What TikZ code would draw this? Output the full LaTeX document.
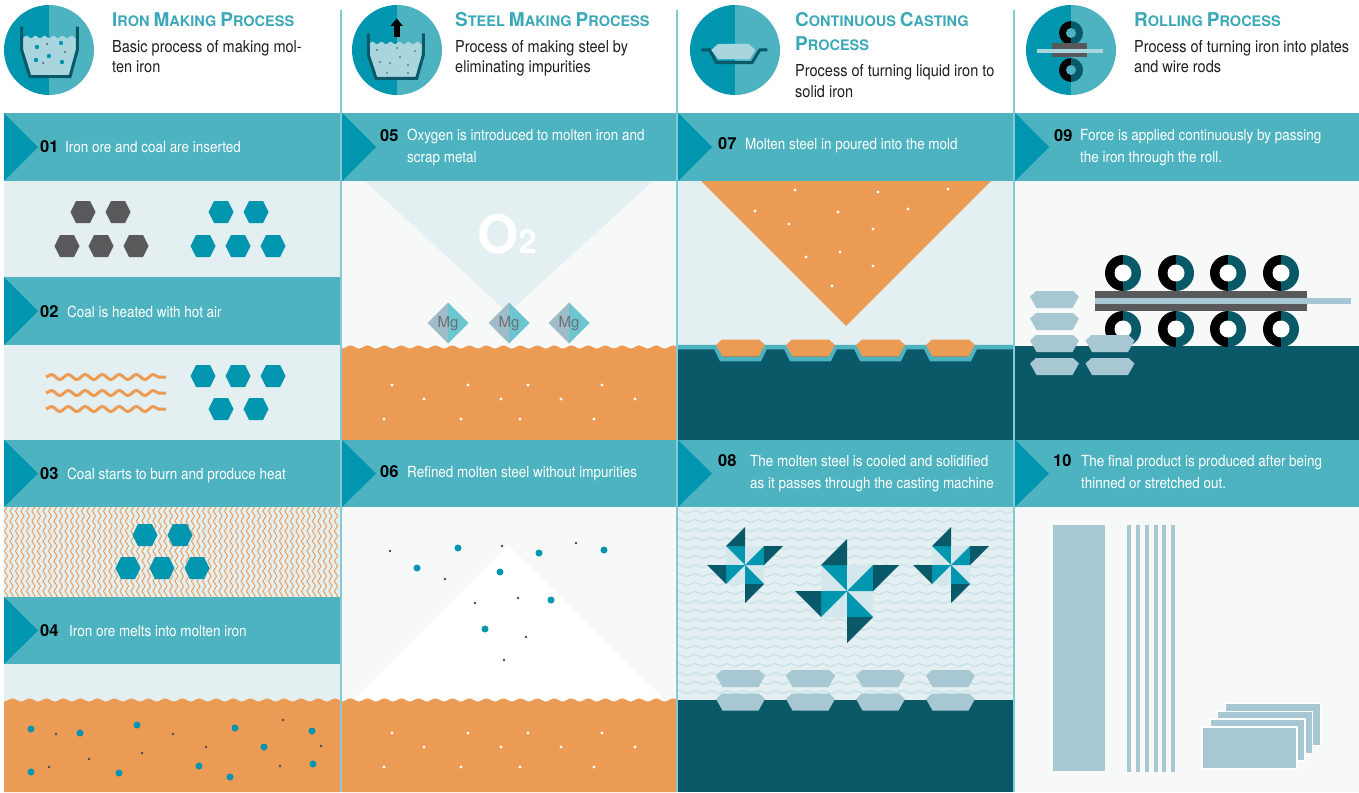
\documentclass[tikz,border=0pt]{standalone}
\usepackage{fontspec}
\setmainfont{TeX Gyre Heros}
\newfontfamily\narrowfont[FakeStretch=0.88]{TeX Gyre Heros}
\usetikzlibrary{decorations.pathmorphing}

% palette
\definecolor{bandteal}{HTML}{4DB3C1}
\definecolor{deepteal}{HTML}{0096B0}
\definecolor{darkteal}{HTML}{0A5969}
\definecolor{paleteal}{HTML}{E3EFF1}
\definecolor{offwhite}{HTML}{F7F9F9}
\definecolor{molten}{HTML}{EC9B54}
\definecolor{coal}{HTML}{59595C}
\definecolor{slabblue}{HTML}{A7C7D3}
\definecolor{titleteal}{HTML}{3BA8B8}
\definecolor{frost}{HTML}{A9D5DE}
\definecolor{pinpale}{HTML}{D3E7EC}
\definecolor{mggray}{HTML}{9FBCC8}
\definecolor{mgteal}{HTML}{6CC5CF}
\definecolor{ripple}{HTML}{C8E0E6}
\definecolor{inkgray}{HTML}{4A4A4D}

% first letter of a title word
\newcommand{\capbig}[1]{{\fontsize{19}{19}\selectfont #1}}

\tikzset{
  hexa/.pic={\path[pic actions] (-12.5,0) -- (-7,-11) -- (7,-11)
      -- (12.5,0) -- (7,11) -- (-7,11) -- cycle;},
  slab/.pic={\path[pic actions] (-18.5,-8.5) -- (18.5,-8.5) -- (24.5,-3)
      -- (18,8.5) -- (-18,8.5) -- (-24.5,-3) -- cycle;},
  roller/.pic={
    \fill[black] (0,-18) arc[start angle=90, end angle=270, radius=18pt] -- cycle;
    \fill[darkteal] (0,-18) arc[start angle=90, end angle=-90, radius=18pt] -- cycle;
    \fill[white] (0,0) circle[radius=8.5pt];},
  % unit pinwheel: square of four split quadrants plus outer flaps
  pinwheel/.pic={
    \foreach \a in {0,90,180,270} {
      \begin{scope}[rotate=\a]
        \fill[pinpale]  (0,0) -- (-1,-1) -- (-1,0) -- cycle;
        \fill[deepteal] (0,0) -- (0,-1) -- (-1,-1) -- cycle;
      \end{scope}}
    \foreach \a in {0,90,180} {
      \fill[darkteal, rotate=\a] (-1,-1) -- (0,-1) -- (0,-2) -- cycle;}
    \fill[darkteal] (1,-1) -- (2,-1) -- (1,0) -- cycle;},
}

\begin{document}
\begin{tikzpicture}[x=1pt, y=-1pt,
    banner/.style={fill=bandteal},
    flag/.style={fill=deepteal},
    sepline/.style={draw=bandteal!70, line width=1.4pt},
    % multi-line nodes sit on the baseline of their last line
    title/.style={anchor=base west, inner sep=0pt, align=left, text=titleteal,
                  font=\bfseries\fontsize{14.5}{24}\selectfont},
    desc/.style={anchor=base west, inner sep=0pt, align=left, text=black!88,
                 font=\narrowfont\fontsize{16.5}{20.5}\selectfont},
    stepno/.style={anchor=base west, inner sep=0pt, text=black,
                   font=\bfseries\fontsize{16.5}{16.5}\selectfont},
    steptext/.style={anchor=base west, inner sep=0pt, align=left, text=white,
                     font=\narrowfont\fontsize{15.3}{21.5}\selectfont},
    mglabel/.style={inner sep=0pt, text=inkgray!80, font=\fontsize{15}{15}\selectfont},
    snakeline/.style={decorate, decoration={snake, amplitude=#1}},
  ]
  \useasboundingbox (0,0) rectangle (1359,792);
  \fill[white] (0,0) rectangle (1359,792);

  % ---- header icons ---------------------------------------------------
  \foreach \cx in {49,397,735,1071} {
    \begin{scope}
      \clip (\cx,50) circle[radius=45pt];
      \fill[deepteal] (\cx-46,4) rectangle (\cx,96);
      \fill[bandteal] (\cx,4) rectangle (\cx+46,96);
    \end{scope}
  }
  % iron: crucible with ore
  \fill[frost] (22,37) -- plot[domain=22:77, samples=40] (\x,{37+1.3*cos((\x-22)*40)})
      -- (77,50) -- (70,77) -- (30,77) -- (22,50) -- cycle;
  \draw[darkteal, line width=3pt] (21.7,26.7) -- (21.7,50) -- (30,76.7)
      -- (70,76.7) -- (77.3,50) -- (77.3,26.7);
  \foreach \x/\y in {37/47, 61/43, 49/56, 36/60, 62/62}
    \fill[deepteal] (\x,\y) circle[radius=2.2pt];
  \foreach \x/\y in {47/44, 65/52, 43/63}
    \fill[inkgray] (\x,\y) circle[radius=1pt];
  % steel: converter with gas out
  \fill[frost] (368,43) -- plot[domain=368:423, samples=40] (\x,{43+1.3*cos((\x-368)*40)})
      -- (423,55) -- (416.7,78) -- (376,78) -- (368,55) -- cycle;
  \draw[darkteal, line width=3pt] (368.3,33.3) -- (368.3,55) -- (376,78.3)
      -- (416.7,78.3) -- (423.3,55) -- (423.3,33.3);
  \foreach \x/\y in {377/50, 397/48, 415/51, 380/62, 390/63, 408/65, 387/73, 408/73, 400/57}
    \fill[inkgray] (\x,\y) circle[radius=0.9pt];
  \fill[black] (393.7,37) rectangle (399.7,25);
  \fill[black] (390.5,26) -- (402.9,26) -- (396.7,18.5) -- cycle;
  % casting: mould
  \draw[darkteal, line width=3pt] (701.3,50) -- (709.7,50) -- (716.3,62.7)
      -- (752,62.7) -- (759.7,50) -- (767.3,50);
  \fill[frost] (718,44) -- (748.7,44) -- (755.3,50) -- (749.7,59.3)
      -- (718,59.3) -- (711.3,50) -- cycle;
  % rolling: two rolls and a strip
  \foreach \ry in {33,70} {
    \fill[black] (1071,\ry-12) arc[start angle=90, end angle=270, radius=12pt] -- cycle;
    \fill[darkteal] (1071,\ry-12) arc[start angle=90, end angle=-90, radius=12pt] -- cycle;
    \fill[bandteal] (1071,\ry) circle[radius=5pt];
  }
  \fill[coal] (1052,43) rectangle (1087,57);
  \fill[frost] (1037,49.3) rectangle (1103,53.3);

  % ---- header texts ---------------------------------------------------
  \node[title] (t1) at (112,27) {\capbig{I}RON \capbig{M}AKING \capbig{P}ROCESS};
  \node[desc]  (d1) at (112,73) {Basic process of making mol-\\ten iron};
  \node[title] (t2) at (455,27) {\capbig{S}TEEL \capbig{M}AKING \capbig{P}ROCESS};
  \node[desc]  (d2) at (455,73) {Process of making steel by\\eliminating impurities};
  \node[title] (t3) at (795,51) {\capbig{C}ONTINUOUS \capbig{C}ASTING\\\capbig{P}ROCESS};
  \node[desc]  (d3) at (795,97) {Process of turning liquid iron to\\solid iron};
  \node[title] (t4) at (1134,27) {\capbig{R}OLLING \capbig{P}ROCESS};
  \node[desc]  (d4) at (1134,73) {Process of turning iron into plates\\and wire rods};

  % ---- column 1: iron making ------------------------------------------
  \fill[paleteal] (4,181) rectangle (340,277);
  \fill[paleteal] (4,345) rectangle (340,440);
  \fill[paleteal] (4,507) rectangle (340,597);
  \fill[paleteal] (4,664) rectangle (340,792);
  \foreach \x/\y in {83/212, 118/212, 67/246, 101/246, 136/246}
    \pic[fill=coal] at (\x,\y) {hexa};
  \foreach \x/\y in {221/212, 256/212, 203/246, 238/246, 273/246}
    \pic[fill=deepteal] at (\x,\y) {hexa};
  % hot air
  \foreach \y in {377,393,409}
    \draw[molten, line width=3pt, snakeline=2.5pt, decoration={segment length=17pt}]
      (46,\y) -- (166,\y);
  \foreach \x/\y in {203/376, 238/376, 273/376, 221/409, 256/409}
    \pic[fill=deepteal] at (\x,\y) {hexa};
  % heat
  \begin{scope}
    \clip (4,507) rectangle (340,597);
    \foreach \x in {6,11.5,...,340}
      \draw[molten, line width=0.9pt, snakeline=1.6pt, decoration={segment length=10pt}]
        (\x,503) -- (\x,601);
  \end{scope}
  \foreach \x/\y in {145/535, 180/535, 128/568, 162/568, 197/568}
    \pic[fill=deepteal] at (\x,\y) {hexa};
  % molten iron
  \fill[molten] (4,792) -- plot[domain=4:340, samples=120] (\x,{700+1.6*cos((\x-4)*21.2)})
      -- (340,792) -- cycle;
  \foreach \x/\y in {31/729, 80/733, 137/725, 235/728, 312/731, 264/747,
                     31/772, 119/773, 199/766, 230/777, 313/764}
    \fill[deepteal] (\x,\y) circle[radius=3.5pt];
  \foreach \x/\y in {56/734, 173/734, 283/720, 142/753, 89/759, 206/747,
                     321/746, 49/767, 280/766}
    \fill[inkgray] (\x,\y) circle[radius=1.4pt];

  % ---- column 2: steel making -----------------------------------------
  \fill[offwhite] (342,181) rectangle (676,440);
  \fill[paleteal] (365,181) -- (653,181) -- (508,313) -- cycle;
  \node[anchor=base west, inner sep=0pt, text=white,
        font=\bfseries\fontsize{53}{53}\selectfont] (oxy) at (477,253)
        {O\fontsize{33}{33}\selectfont 2};
  \fill[molten] (342,440) -- plot[domain=342:676, samples=120] (\x,{347+1.6*cos((\x-342)*21.2)})
      -- (676,440) -- cycle;
  \foreach \x [count=\i] in {448,509,569} {
    \fill[mggray] (\x-20.5,323) -- (\x,302.5) -- (\x,343.5) -- cycle;
    \fill[mgteal] (\x+20.5,323) -- (\x,302.5) -- (\x,343.5) -- cycle;
    \node[mglabel] (mg\i) at (\x,324) {Mg};
  }
  \fill[offwhite] (342,507) rectangle (676,792);
  \fill[white] (508,545) -- (668,703) -- (350,703) -- cycle;
  \foreach \x/\y in {458/548, 417/568, 500/572, 539/553, 604/550, 551/600, 485/629}
    \fill[deepteal] (\x,\y) circle[radius=3.5pt];
  \foreach \x/\y in {390/551, 502/546, 576/543, 445/579, 475/603, 518/598, 526/637, 504/660}
    \fill[inkgray] (\x,\y) circle[radius=1.4pt];
  \fill[molten] (342,792) -- plot[domain=342:676, samples=120] (\x,{700+1.6*cos((\x-342)*21.2)})
      -- (676,792) -- cycle;
  \foreach \oy in {0,348}
    \foreach \x/\y in {392/385, 468/385, 528/385, 602/385, 424/399, 501/399,
                       561/399, 635/399, 384/419, 461/419, 520/419, 594/419}
      \fill[white] (\x,\y+\oy) circle[radius=1.6pt];

  % ---- column 3: continuous casting -----------------------------------
  \fill[paleteal] (678,181) rectangle (1013,345);
  \fill[molten] (701,181) -- (991,181) -- (846,326) -- cycle;
  \foreach \x/\y in {795/190, 878/192, 948/189, 755/211, 838/212, 908/209,
                     789/224, 873/229, 806/257, 840/252, 873/266, 832/286}
    \fill[white] (\x,\y) circle[radius=1.6pt];
  \fill[darkteal] (678,345) rectangle (1013,440);
  \draw[bandteal, line width=4.5pt] (678,347)
    \foreach \c in {740.5,810.5,880.5,950.5} {
      -- (\c-25,347) -- (\c-19,359) -- (\c+19,359) -- (\c+25,347)} -- (1013,347);
  \foreach \c in {740.5,810.5,880.5,950.5}
    \pic[fill=molten] at (\c,348) {slab};
  % cooling
  \fill[paleteal] (678,507) rectangle (1013,700);
  \begin{scope}
    \clip (678,507) rectangle (1013,700);
    \foreach \y in {512,521,...,700}
      \draw[ripple, line width=1.2pt, snakeline=1.6pt, decoration={segment length=16pt}]
        (674,\y) -- (1017,\y);
  \end{scope}
  \pic[scale=19] at (745,565) {pinwheel};
  \pic[scale=26] at (847,591) {pinwheel};
  \pic[scale=19] at (951,565) {pinwheel};
  \fill[darkteal] (678,700) rectangle (1013,792);
  \foreach \c in {740.5,810.5,880.5,950.5} {
    \pic[fill=slabblue] at (\c,678.5) {slab};
    \pic[fill=slabblue] at (\c,702) {slab};
  }

  % ---- column 4: rolling ----------------------------------------------
  \fill[offwhite] (1015,181) rectangle (1359,346);
  \fill[darkteal] (1015,346) rectangle (1359,440);
  \foreach \x in {1123,1176,1228,1281} {
    \pic at (\x,273) {roller};
    \pic at (\x,329) {roller};
  }
  \fill[coal] (1095,291) rectangle (1307,311);
  \fill[slabblue] (1095,298) rectangle (1351,304);
  \foreach \x/\y in {1054.5/299.5, 1054.5/321.5, 1054.5/343.5, 1054.5/366.5,
                     1110/343.5, 1110/366.5}
    \pic[fill=slabblue] at (\x,\y) {slab};
  % products
  \fill[offwhite] (1015,507) rectangle (1359,792);
  \fill[slabblue] (1053,525) rectangle (1105,771);
  \foreach \i in {0,...,5}
    \fill[slabblue] (1127+8.85*\i,525) rectangle (1131+8.85*\i,772);
  \foreach \i in {3,2,1,0}
    \filldraw[fill=slabblue, draw=white, line width=1.5pt]
      (1202+7.8*\i,727-7.8*\i) rectangle (1297+7.8*\i,769-7.8*\i);

  % ---- step banners ---------------------------------------------------
  \foreach \x/\xe/\y/\ye in {4/340/113/181, 4/340/277/345, 4/340/440/507, 4/340/597/664,
      342/676/113/181, 342/676/440/507, 678/1013/113/181, 678/1013/440/507,
      1015/1359/113/181, 1015/1359/440/507} {
    \fill[banner] (\x,\y) rectangle (\xe,\ye);
    \fill[flag] (\x,\y) -- (\x+34,{(\y+\ye)/2}) -- (\x,\ye) -- cycle;
  }
  \node[stepno]   (n01) at (40,152.5) {01};
  \node[steptext] (s01) at (65,152.5) {Iron ore and coal are inserted};
  \node[stepno]   (n02) at (40,317.5) {02};
  \node[steptext] (s02) at (67,317.5) {Coal is heated with hot air};
  \node[stepno]   (n03) at (40,479.5) {03};
  \node[steptext] (s03) at (67,479.5) {Coal starts to burn and produce heat};
  \node[stepno]   (n04) at (40,636.5) {04};
  \node[steptext] (s04) at (69,636.5) {Iron ore melts into molten iron};
  \node[stepno]   (n05) at (380,141) {05};
  \node[steptext] (s05) at (407,162) {Oxygen is introduced to molten iron and\\scrap metal};
  \node[stepno]   (n06) at (380,477.5) {06};
  \node[steptext] (s06) at (407,477.5) {Refined molten steel without impurities};
  \node[stepno]   (n07) at (718,149.5) {07};
  \node[steptext] (s07) at (745,149.5) {Molten steel in poured into the mold};
  \node[stepno]   (n08) at (718,466.5) {08};
  \node[steptext] (s08) at (750,488) {The molten steel is cooled and solidified\\as it passes through the casting machine};
  \node[stepno]   (n09) at (1054,141) {09};
  \node[steptext] (s09) at (1080,162) {Force is applied continuously by passing\\the iron through the roll.};
  \node[stepno]   (n10) at (1053,466.5) {10};
  \node[steptext] (s10) at (1081,488) {The final product is produced after being\\thinned or stretched out.};

  % column rules
  \foreach \sx in {341,677,1014}
    \draw[sepline] (\sx,10) -- (\sx,792);
\end{tikzpicture}
\end{document}
